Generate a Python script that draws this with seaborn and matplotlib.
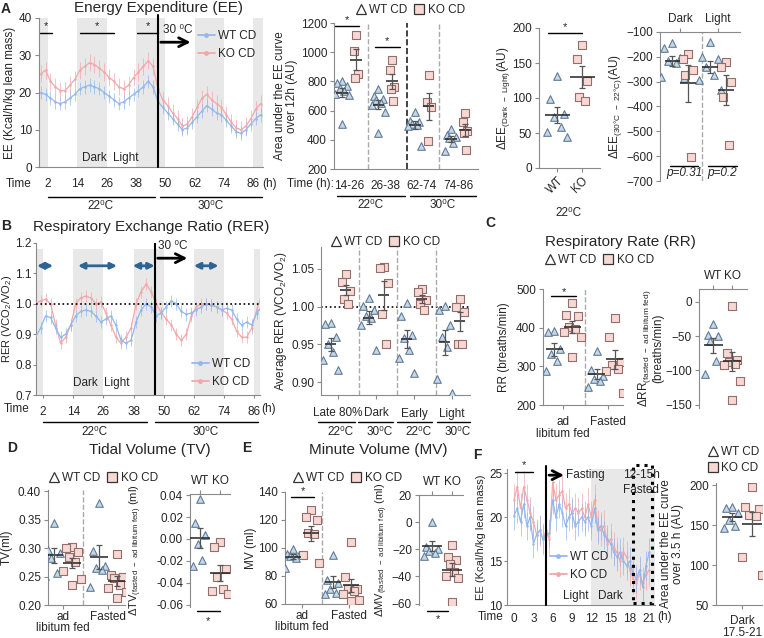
import numpy as np
import pandas as pd
import matplotlib
matplotlib.use("Agg")
import matplotlib.pyplot as plt
from matplotlib.lines import Line2D
from matplotlib.patches import Rectangle
import seaborn as sns

# ---- data ----
# A: energy expenditure time course (22C then 30C)
A_HOURS = [-1, 1, 3, 5, 7, 9, 11, 13, 15, 17, 19, 21, 23, 25, 27, 29, 31, 33, 35, 37,
           39, 41, 43, 45, 47, 49, 51, 53, 55, 57, 59, 61, 63, 65, 67, 69, 71, 73, 75,
           77, 79, 81, 83, 85, 87, 89]
EE_WT = [20, 19.5, 18.5, 17.5, 17, 17.5, 18.5, 19.5, 21, 21.5,
         22, 21.5, 21, 20, 19, 18, 17, 17.5, 18.5, 19.5,
         20.5, 21.5, 23, 21.5, 17.5, 16, 14.5, 13, 11.5, 10,
         10.5, 12, 13.5, 15, 16.5, 15.5, 14.5, 14, 12.5, 11,
         9.5, 9, 10, 11.5, 13, 14]
EE_KO = [25, 26, 23, 21.5, 20.5, 20.5, 22, 23.5, 26, 27,
         28, 27.5, 26.5, 25.5, 24, 23, 21.5, 21, 22, 24,
         25.5, 27, 28.5, 27, 21, 18, 16.5, 14.5, 13, 11,
         11.5, 13.5, 16, 18.5, 19.5, 18, 17, 16, 14, 12,
         10.5, 10, 11, 13, 15.5, 17]
EE_SEM = {"WT CD": 1.8, "KO CD": 2.3}

AUC12_GROUPS = ["14-26", "26-38", "62-74", "74-86"]
AUC12_WT = [[800, 790, 770, 755, 735, 715, 705, 510],
            [750, 700, 680, 670, 650, 640, 590, 450],
            [590, 530, 520, 505, 500, 495, 360],
            [475, 430, 420, 410, 380, 320]]
AUC12_KO = [[1120, 1005, 850, 820],
            [950, 880, 760, 750, 665],
            [845, 660, 625, 395],
            [585, 520, 460, 445, 330]]

DEE_DL_WT = [131, 98, 77, 73, 58, 51, 45]
DEE_DL_KO = [175, 155, 124, 101, 96]

DEE_T_WT = [[-145, -165, -205, -215, -225, -280, -285],
            [-140, -200, -210, -240, -275, -295, -335]]
DEE_T_KO = [[-190, -210, -255, -275, -605],
            [-220, -240, -300, -360, -555]]

# B: RER
RER_WT = [0.89, 0.92, 0.96, 0.955, 0.92, 0.89, 0.90, 0.93, 0.96, 0.975,
          0.98, 0.975, 0.96, 0.94, 0.95, 0.96, 0.93, 0.88, 0.87, 0.88,
          0.94, 0.98, 1.00, 0.99, 0.96, 0.97, 0.99, 1.01, 1.00, 0.975,
          0.965, 0.97, 0.98, 0.99, 1.00, 0.995, 0.99, 0.98, 0.985, 0.98,
          0.95, 0.93, 0.94, 0.93, 0.97, 0.99]
RER_KO = [1.00, 1.01, 1.015, 1.00, 0.93, 0.87, 0.89, 0.93, 1.00, 1.02,
          1.025, 1.02, 1.00, 1.005, 0.97, 0.93, 0.89, 0.87, 0.89, 0.92,
          1.00, 1.04, 1.065, 1.04, 1.00, 0.97, 0.95, 0.93, 0.90, 0.88,
          0.90, 0.96, 0.99, 1.00, 1.00, 0.995, 0.99, 0.98, 0.97, 0.95,
          0.91, 0.89, 0.89, 0.92, 0.98, 1.03]
RER_SEM = {"WT CD": 0.02, "KO CD": 0.02}

RER_GROUPS = ["Late 80%", "Dark", "Early", "Light"]
RER_AVG_WT = [[0.978, 0.977, 0.960, 0.950, 0.940, 0.930, 0.916],
              [1.012, 1.001, 0.996, 0.987, 0.985, 0.976, 0.942],
              [1.005, 0.988, 0.962, 0.958, 0.943, 0.932, 0.912],
              [1.001, 0.995, 0.976, 0.960, 0.947, 0.904, 0.885]]
RER_AVG_KO = [[1.043, 1.032, 1.021, 1.010, 1.004],
              [1.052, 1.051, 1.031, 0.990, 0.950],
              [1.023, 1.019, 1.009, 1.004, 0.996],
              [1.010, 0.999, 0.993, 0.951, 0.950]]

# C: respiratory rate
FED_GROUPS = ["ad\nlibitum fed", "Fasted"]
RR_WT = [[392, 390, 345, 332, 315, 289], [340, 290, 275, 268, 262, 247]]
RR_KO = [[463, 432, 430, 403, 397, 388, 375, 325], [425, 376, 312, 303, 292, 288, 232]]
DRR_WT = [-32, -48, -50, -57, -86, -105]
DRR_KO = [-6, -75, -85, -88, -90, -92, -115, -144]

# D: tidal volume
TV_WT = [[0.344, 0.296, 0.292, 0.282, 0.257, 0.251], [0.380, 0.295, 0.268, 0.265, 0.262, 0.232]]
TV_KO = [[0.302, 0.300, 0.293, 0.285, 0.275, 0.260, 0.246, 0.235],
         [0.289, 0.252, 0.250, 0.248, 0.236, 0.230, 0.222, 0.212]]
DTV_WT = [0.036, 0.015, 0.004, -0.005, -0.019, -0.025]
DTV_KO = [-0.003, -0.007, -0.027, -0.035, -0.046, -0.047, -0.050]

# E: minute volume
MV_WT = [[99, 96, 95, 94, 93, 86], [95, 77, 75, 71, 68, 67]]
MV_KO = [[127, 122, 120, 111, 110, 95, 89], [104, 79, 71, 71, 69, 67, 63, 62]]
DMV_WT = [0, -18, -20, -21, -23, -25]
DMV_KO = [-17, -26, -28, -31, -37, -40, -41, -59]

# F: fasting EE time course
F_HOURS = [0, 0.5, 1, 1.5, 2, 2.5, 3, 3.5, 4, 4.5, 5, 5.5, 6, 6.5, 7, 7.5, 8, 8.5, 9, 9.5,
           10, 10.5, 11, 11.5, 12, 12.5, 13, 13.5, 14, 14.5, 15, 15.5, 16, 16.5, 17, 17.5,
           18, 18.5, 19, 19.5, 20, 20.5, 21]
F_WT = [20.2, 21.0, 19.5, 21.5, 19.0, 20.0, 17.0, 18.0, 18.5, 17.5, 18.0, 18.2, 22.0, 20.0,
        21.5, 20.5, 19.0, 20.0, 20.5, 19.0, 19.5, 20.0, 19.5, 20.0, 19.0, 21.0, 18.5, 19.0,
        18.0, 17.5, 17.0, 16.0, 15.5, 16.0, 15.0, 14.5, 15.0, 13.5, 13.0, 14.0, 12.0, 14.5, 16.0]
F_KO = [22.0, 23.5, 21.0, 23.5, 22.0, 20.5, 19.5, 18.0, 18.5, 17.5, 18.5, 17.5, 24.0, 22.0,
        22.5, 23.0, 21.0, 21.5, 20.5, 21.0, 20.5, 21.0, 20.0, 21.5, 20.0, 22.0, 19.0, 18.5,
        19.0, 17.0, 17.5, 16.5, 16.0, 15.0, 16.0, 15.5, 14.0, 13.0, 12.5, 13.5, 12.5, 13.5, 14.0]
F_SEM = {"WT CD": 1.6, "KO CD": 1.8}
AUC35_WT = [172, 171, 165, 156, 149, 146]
AUC35_KO = [198, 172, 170, 162, 161, 110, 87]

# ---- styling ----
WT_LINE, KO_LINE = "#93b8ee", "#f3a7ab"
TRI_FACE, TRI_EDGE = "#c8d7e6", "#5f7c99"
SQ_FACE, SQ_EDGE = "#f7d8d3", "#946d6d"
BAND, SPINE = "#e8e8e8", "#8a8a8a"
JIT = [0.0, -0.7, 0.7, -0.35, 0.35, -1.0, 1.0, 0.0]
DEG = "\u2070C"

sns.set_style("ticks")
plt.rcParams["font.family"] = ["Liberation Sans", "DejaVu Sans"]
plt.rcParams["mathtext.default"] = "regular"
plt.rcParams["axes.edgecolor"] = SPINE
plt.rcParams["axes.linewidth"] = 0.8

W, H = 764, 638
fig = plt.figure(figsize=(W / 100, H / 100), dpi=100)


def add_ax(x0, y0, x1, y1):
    return fig.add_axes([x0 / W, 1 - y1 / H, (x1 - x0) / W, (y1 - y0) / H])


def T(x, y, s, **kw):
    kw.setdefault("ha", "center")
    kw.setdefault("va", "center")
    kw.setdefault("fontsize", 8.5)
    fig.text(x / W, 1 - y / H, s, **kw)


def L(x0, x1, y, lw=1.0):
    fig.add_artist(Line2D([x0 / W, x1 / W], [1 - y / H] * 2, color="black", lw=lw))


def ylab(ax, text, xr, size=8.5, **kw):
    # xr: pixel x of the label's right edge
    pos = ax.get_position()
    ax.set_ylabel(text, fontsize=size, **kw)
    ax.yaxis.set_label_coords((xr / W - pos.x0) / pos.width, 0.5)


def style(ax, top=False):
    if top:
        ax.spines["bottom"].set_visible(False)
        ax.spines["right"].set_visible(False)
        ax.xaxis.tick_top()
    else:
        sns.despine(ax=ax)
    ax.tick_params(labelsize=8.5, length=3, width=0.8, color=SPINE, pad=2)
    ax.set_xlabel("")


def dot_legend(x, y, ncol=2):
    h = [Line2D([], [], marker="^", ls="none", mfc="white", mec="#333333", mew=0.9, ms=7, label="WT CD"),
         Line2D([], [], marker="s", ls="none", mfc=SQ_FACE, mec="#333333", mew=0.9, ms=6.5, label="KO CD")]
    fig.legend(handles=h, loc="center", bbox_to_anchor=(x / W, 1 - y / H), ncol=ncol,
               frameon=False, fontsize=8.5, handletextpad=0.2, columnspacing=0.5,
               handlelength=1.0, borderpad=0, borderaxespad=0, labelspacing=0.3)


def line_legend(x, y):
    h = [Line2D([], [], color=WT_LINE, marker="o", ms=2.5, lw=1.3, label="WT CD"),
         Line2D([], [], color=KO_LINE, marker="o", ms=2.5, lw=1.3, label="KO CD")]
    fig.legend(handles=h, loc="upper left", bbox_to_anchor=(x / W, 1 - y / H), frameon=False,
               fontsize=8.5, handlelength=1.4, handletextpad=0.3, labelspacing=0.5,
               borderpad=0, borderaxespad=0)


def dots(ax, wt, ko, off, sw, sk, half):
    rows = []
    for gi, (w, k) in enumerate(zip(wt, ko)):
        rows += [("WT CD", gi - off + JIT[j % 8] * sw, v) for j, v in enumerate(w)]
        rows += [("KO CD", gi + off + JIT[j % 8] * sk, v) for j, v in enumerate(k)]
    df = pd.DataFrame(rows, columns=["geno", "x", "v"])
    sns.scatterplot(data=df[df.geno == "WT CD"], x="x", y="v", marker="^", s=30,
                    color=TRI_FACE, edgecolor=TRI_EDGE, linewidth=0.8, ax=ax,
                    legend=False, zorder=3)
    sns.scatterplot(data=df[df.geno == "KO CD"], x="x", y="v", marker="s", s=28,
                    color=SQ_FACE, edgecolor=SQ_EDGE, linewidth=0.8, ax=ax,
                    legend=False, zorder=3)
    for gi, (w, k) in enumerate(zip(wt, ko)):
        for vals, pos in ((w, gi - off), (k, gi + off)):
            m = np.mean(vals)
            se = np.std(vals, ddof=1) / np.sqrt(len(vals))
            ax.hlines(m, pos - half, pos + half, color="#222222", lw=1.1, zorder=4)
            ax.errorbar(pos, m, yerr=se, fmt="none", ecolor="#555555", elinewidth=0.9,
                        capsize=2.5, capthick=0.9, zorder=4)
    ax.set_ylabel("")


def series(ax, hours, wt, ko, sem):
    df = pd.DataFrame({"t": hours + hours, "v": wt + ko,
                       "geno": ["WT CD"] * len(wt) + ["KO CD"] * len(ko)})
    pal = {"WT CD": WT_LINE, "KO CD": KO_LINE}
    for g in ["KO CD", "WT CD"]:
        sub = df[df.geno == g]
        ax.errorbar(sub.t, sub.v, yerr=sem[g], fmt="none", ecolor=pal[g], elinewidth=0.7,
                    alpha=0.7, zorder=2)
    sns.lineplot(data=df, x="t", y="v", hue="geno", hue_order=["KO CD", "WT CD"],
                 palette=pal, lw=0.9, marker="o", ms=1.8, mec="none", ax=ax,
                 legend=False, zorder=3)
    ax.set_ylabel("")


def sig(ax, x0, x1, y, dy, star=True, clip=True):
    ax.plot([x0, x1], [y, y], color="black", lw=1.0, clip_on=clip)
    if star:
        ax.text((x0 + x1) / 2, y + dy, "*", ha="center", va="center", fontsize=8,
                clip_on=False)


# ================= A =================
T(6, 9, "A", fontsize=10, fontweight="bold")
T(158, 8, "Energy Expenditure (EE)", fontsize=11)

ax = add_ax(39, 18, 263, 167)
for a, b in [(-5, 2), (14, 26), (38, 50), (62, 74), (86, 95)]:
    ax.axvspan(a, b, color=BAND, lw=0, zorder=0)
series(ax, A_HOURS, EE_WT, EE_KO, EE_SEM)
ax.axvline(47, color="black", lw=1.5, ymax=1.02, clip_on=False, zorder=5)
ax.set_xlim(-1.7, 90)
ax.set_ylim(0, 40)
ax.set_yticks([0, 10, 20, 30, 40])
ax.set_xticks([2, 14, 26, 38, 50, 62, 74, 86])
for x0, x1 in [(-1.3, 3.6), (15.1, 29), (38.5, 47)]:
    sig(ax, x0, x1, 36, 1.8)
ax.annotate("", xy=(61.5, 33.5), xytext=(47, 33.5),
            arrowprops=dict(arrowstyle="->", lw=2, color="black", mutation_scale=16))
style(ax)
ylab(ax, "EE (Kcal/h/kg lean mass)", 16)
ax.tick_params(axis="x", pad=8, length=0)
T(163, 30, "30 " + DEG, ha="left")
line_legend(198, 30)
T(94, 158, "Dark")
T(126, 158, "Light")
T(19, 184, "Time")
T(270, 184, "(h)")
L(48, 155, 197)
T(101, 206, "22" + DEG)
L(160, 262, 197)
T(211, 206, "30" + DEG)

# AUC over 12 h
ax = add_ax(334, 23, 478, 169)
dots(ax, AUC12_WT, AUC12_KO, 0.19, 0.18, 0.08, 0.16)
ax.axvline(0.52, ls="--", color="#aaaaaa", lw=1)
ax.axvline(1.6, ls="--", color="#222222", lw=1.2)
ax.axvline(2.48, ls="--", color="#aaaaaa", lw=1)
sig(ax, -0.41, 0.28, 1180, 40)
sig(ax, 0.72, 1.4, 1033, 40)
ax.set_xlim(-0.41, 3.55)
ax.set_ylim(200, 1200)
ax.set_yticks(range(200, 1201, 200))
ax.set_xticks(range(4))
ax.set_xticklabels(AUC12_GROUPS)
style(ax)
ylab(ax, "Area under the EE curve\nover 12h (AU)", 298, linespacing=1.0)
ax.tick_params(axis="x", pad=8, length=0)
dot_legend(410, 10)
T(310, 184, "Time (h):")
L(337, 405, 196)
T(371, 205, "22" + DEG)
L(410, 476, 196)
T(443, 205, "30" + DEG)

# delta EE dark - light
ax = add_ax(539, 28, 600, 168)
dots(ax, [DEE_DL_WT], [DEE_DL_KO], 0.5, 0.4, 0.3, 0.5)
sig(ax, -0.86, 0.5, 193, 8)
ax.set_xlim(-1.22, 1.22)
ax.set_ylim(0, 200)
ax.set_yticks([0, 50, 100, 150, 200])
ax.set_xticks([-0.5, 0.5])
ax.set_xticklabels(["WT", "KO"], rotation=45, ha="right", rotation_mode="anchor")
style(ax)
ylab(ax, r"$\Delta$EE$_{\mathregular{(Dark\ -\ Light)}}$(AU)", 512)
T(568, 213, "22" + DEG)

# delta EE 30C - 22C
ax = add_ax(660, 32, 740, 181)
dots(ax, DEE_T_WT, DEE_T_KO, 0.21, 0.3, 0.2, 0.2)
ax.axvline(0.58, ls="--", color="#aaaaaa", lw=1)
sig(ax, -0.26, 0.47, -640, 0, star=False)
sig(ax, 0.74, 1.5, -640, 0, star=False)
ax.text(0.1, -668, "p=0.31", ha="center", va="center", fontsize=8.5, style="italic")
ax.text(1.12, -668, "p=0.2", ha="center", va="center", fontsize=8.5, style="italic")
ax.set_xlim(-0.53, 1.58)
ax.set_ylim(-700, -100)
ax.set_yticks(range(-700, -99, 100))
ax.set_xticks([0, 1])
ax.set_xticklabels(["Dark", "Light"])
style(ax, top=True)
ylab(ax, r"$\Delta$EE$_{\mathregular{(30°C\ -\ 22°C)}}$(AU)", 624)

# ================= B =================
T(6, 226, "B", fontsize=10, fontweight="bold")
T(151, 227, "Respiratory Exchange Ratio (RER)", fontsize=11)

ax = add_ax(36, 243, 260, 395)
for a, b in [(-5, 2), (14, 26), (38, 50), (62, 74), (86, 95)]:
    ax.axvspan(a, b, ymax=0.96, color=BAND, lw=0, zorder=0)
series(ax, A_HOURS, RER_WT, RER_KO, RER_SEM)
ax.axhline(1.0, ls=":", color="black", lw=1.2, zorder=4)
ax.axvline(46.5, color="black", lw=1.5, ymax=1.0, zorder=5)
for x0, x1 in [(-0.4, 6), (15.9, 31.4), (37.7, 46.4), (62, 71.8)]:
    ax.annotate("", xy=(x1, 1.125), xytext=(x0, 1.125),
                arrowprops=dict(arrowstyle="<|-|>", lw=2, color="#2e6494", mutation_scale=9,
                                shrinkA=0, shrinkB=0))
ax.annotate("", xy=(60.5, 1.15), xytext=(46.5, 1.15),
            arrowprops=dict(arrowstyle="->", lw=2, color="black", mutation_scale=16))
ax.set_xlim(-0.8, 88.3)
ax.set_ylim(0.7, 1.2)
ax.set_yticks([0.7, 0.8, 0.9, 1.0, 1.1, 1.2])
ax.set_yticklabels(["0.7", "0.8", "0.9", "1.0", "1.1", "1.2"])
ax.set_xticks([2, 14, 26, 38, 50, 62, 74, 86])
style(ax)
ax.tick_params(axis="y", length=2, pad=1)
ylab(ax, "RER (VCO$_2$/VO$_2$)", 14, size=8)
ax.tick_params(axis="x", pad=6, length=2)
T(158, 246, "30 " + DEG, ha="left")
line_legend(192, 358)
T(85, 383, "Dark")
T(117, 383, "Light")
T(17, 409, "Time")
T(269, 409, "(h)")
L(43, 147, 422)
T(95, 432, "22" + DEG)
L(155, 258, 422)
T(206, 432, "30" + DEG)

ax = add_ax(321, 247, 470, 395)
dots(ax, RER_AVG_WT, RER_AVG_KO, 0.2, 0.2, 0.15, 0.15)
for xs in [0.55, 1.55, 2.58]:
    ax.axvline(xs, ls="--", color="#aaaaaa", lw=1)
ax.axhline(1.0, ls=":", color="black", lw=1.2, zorder=1)
ax.set_xlim(-0.45, 3.47)
ax.set_ylim(0.883, 1.079)
ax.set_yticks([0.90, 0.95, 1.00, 1.05])
ax.set_yticklabels(["0.90", "0.95", "1.00", "1.05"])
ax.set_xticks(range(4))
ax.set_xticklabels(RER_GROUPS)
style(ax)
ylab(ax, "Average RER (VCO$_2$/VO$_2$)", 289)
ax.tick_params(axis="x", pad=6)
dot_legend(385, 242)
for x0, x1, lab in [(318, 355, "22"), (358, 393, "30"), (397, 432, "22"), (437, 470, "30")]:
    L(x0, x1, 422)
    T((x0 + x1) / 2 + 4, 432, lab + DEG)

# ================= C =================
T(490, 223, "C", fontsize=10, fontweight="bold")
T(620, 242, "Respiratory Rate (RR)", fontsize=11)
dot_legend(599, 260)

ax = add_ax(543, 289, 623, 405)
dots(ax, RR_WT, RR_KO, 0.21, 0.2, 0.2, 0.2)
ax.axvline(0.51, ls="--", color="#aaaaaa", lw=1)
sig(ax, -0.28, 0.3, 483, 9)
ax.set_xlim(-0.47, 1.4)
ax.set_ylim(200, 500)
ax.set_yticks([200, 300, 400, 500])
ax.set_xticks([0, 1.05])
ax.set_xticklabels(FED_GROUPS, linespacing=1.0)
style(ax)
ylab(ax, "RR (breaths/min)", 510)
ax.tick_params(axis="x", pad=5)

ax = add_ax(699, 289, 747, 408)
dots(ax, [DRR_WT], [DRR_KO], 0.5, 0.4, 0.4, 0.5)
ax.set_xlim(-1.24, 1.29)
ax.set_ylim(-155, 19)
ax.set_yticks([-150, -100, -50, 0])
ax.set_xticks([-0.5, 0.5])
ax.set_xticklabels(["WT", "KO"])
style(ax, top=True)
ylab(ax, r"$\Delta$RR$_{\mathregular{(fasted\ -\ ad\ libitum\ fed)}}$" + "\n(breaths/min)",
     664, linespacing=0.9)

# ================= D =================
T(12, 448, "D", fontsize=10, fontweight="bold")
T(150, 450, "Tidal Volume (TV)", fontsize=11)
dot_legend(103, 478)

ax = add_ax(48, 490, 125, 605)
dots(ax, TV_WT, TV_KO, 0.2, 0.2, 0.2, 0.2)
ax.axvline(0.44, ls="--", color="#aaaaaa", lw=1)
ax.set_xlim(-0.33, 1.38)
ax.set_ylim(0.2, 0.402)
ax.set_yticks([0.20, 0.25, 0.30, 0.35, 0.40])
ax.set_yticklabels(["0.20", "0.25", "0.30", "0.35", "0.40"])
ax.set_xticks([0, 1])
ax.set_xticklabels(FED_GROUPS, linespacing=0.95)
style(ax)
ylab(ax, "TV(ml)", 13)
ax.tick_params(axis="x", pad=1)

ax = add_ax(190, 494, 230, 607)
dots(ax, [DTV_WT], [DTV_KO], 0.5, 0.35, 0.4, 0.5)
sig(ax, -0.65, 0.5, -0.0656, 0, star=False, clip=False)
ax.text(-0.1, -0.075, "*", ha="center", va="center", fontsize=8)
ax.set_xlim(-1.0, 1.0)
ax.set_ylim(-0.062, 0.041)
ax.set_yticks([-0.06, -0.04, -0.02, 0.0, 0.02, 0.04])
ax.set_yticklabels(["-0.06", "-0.04", "-0.02", "0.00", "0.02", "0.04"])
ax.set_xticks([-0.5, 0.5])
ax.set_xticklabels(["WT", "KO"])
style(ax, top=True)
ylab(ax, r"$\Delta$TV$_{\mathregular{(fasted\ -\ ad\ libitum\ fed)}}$ (ml)", 144, size=8)

# ================= E =================
T(247, 448, "E", fontsize=10, fontweight="bold")
T(378, 450, "Minute Volume (MV)", fontsize=11)
dot_legend(347, 478)

ax = add_ax(285, 492, 363, 604)
dots(ax, MV_WT, MV_KO, 0.23, 0.2, 0.2, 0.2)
ax.axvline(0.5, ls="--", color="#aaaaaa", lw=1)
sig(ax, -0.28, 0.3, 136.5, 4.5, clip=False)
ax.set_xlim(-0.43, 1.53)
ax.set_ylim(60, 140)
ax.set_yticks([60, 80, 100, 120, 140])
ax.set_xticks([0, 1.18])
ax.set_xticklabels(FED_GROUPS, linespacing=0.95)
style(ax)
ylab(ax, "MV (ml)", 257)
ax.tick_params(axis="x", pad=1)

ax = add_ax(419, 495, 463, 605)
dots(ax, [DMV_WT], [DMV_KO], 0.5, 0.4, 0.3, 0.5)
sig(ax, -0.75, 0.3, -65.4, 0, star=False, clip=False)
ax.text(-0.22, -71.5, "*", ha="center", va="center", fontsize=8)
ax.set_xlim(-1.15, 1.05)
ax.set_ylim(-61, 20)
ax.set_yticks([-60, -40, -20, 0, 20])
ax.set_xticks([-0.5, 0.5])
ax.set_xticklabels(["WT", "KO"])
style(ax, top=True)
ylab(ax, r"$\Delta$MV$_{\mathregular{(fasted\ -\ ad\ libitum\ fed)}}$ (ml)", 390, size=8)

# ================= F =================
T(477, 455, "F", fontsize=10, fontweight="bold")

ax = add_ax(507, 469, 655, 605)
ax.axvspan(12, 23, color=BAND, lw=0, zorder=0)
series(ax, F_HOURS, F_WT, F_KO, F_SEM)
ax.axvline(5.0, color="black", lw=1.5, ymax=1.02, clip_on=False, zorder=5)
ax.annotate("", xy=(8.2, 24.8), xytext=(5.0, 24.8),
            arrowprops=dict(arrowstyle="->", lw=2, color="black", mutation_scale=16))
sig(ax, 0.2, 2.9, 25.2, 0, star=False, clip=False)
ax.text(1.55, 25.9, "*", ha="center", va="center", fontsize=8)
ax.add_patch(Rectangle((18.5, 10.2), 3.0, 15.76, fill=False, ls=":", lw=2.2,
                       edgecolor="black", clip_on=False, zorder=6))
ax.set_xlim(-1.1, 21.9)
ax.set_ylim(10, 25.5)
ax.set_yticks([10, 15, 20, 25])
ax.set_xticks([0, 3, 6, 9, 12, 15, 18, 21])
style(ax)
ax.tick_params(axis="y", length=2, pad=1.5)
ylab(ax, "EE (Kcal/h/kg lean mass)", 486, size=8)
ax.tick_params(axis="x", pad=6, length=0)
T(585, 475, "Fasting")
T(641, 475, "12-15h")
T(641, 490, "Fasted")
line_legend(550, 551)
T(576, 596, "Light")
T(610, 596, "Dark")
T(491, 617, "Time")
T(665, 617, "(h)")

ax = add_ax(716, 483, 762, 605)
dots(ax, [AUC35_WT], [AUC35_KO], 0.5, 0.4, 0.5, 0.5)
ax.set_xlim(-1.3, 1.0)
ax.set_ylim(50, 202.5)
ax.set_yticks([50, 100, 150, 200])
ax.set_xticks([0])
ax.set_xticklabels(["Dark\n17.5-21"], linespacing=1.0)
style(ax)
ylab(ax, "Area under the EE curve\nover 3.5 h (AU)", 684, linespacing=1.0)
ax.tick_params(axis="x", pad=4)
dot_legend(733, 460, ncol=1)

fig.savefig("out.png", dpi=100)
